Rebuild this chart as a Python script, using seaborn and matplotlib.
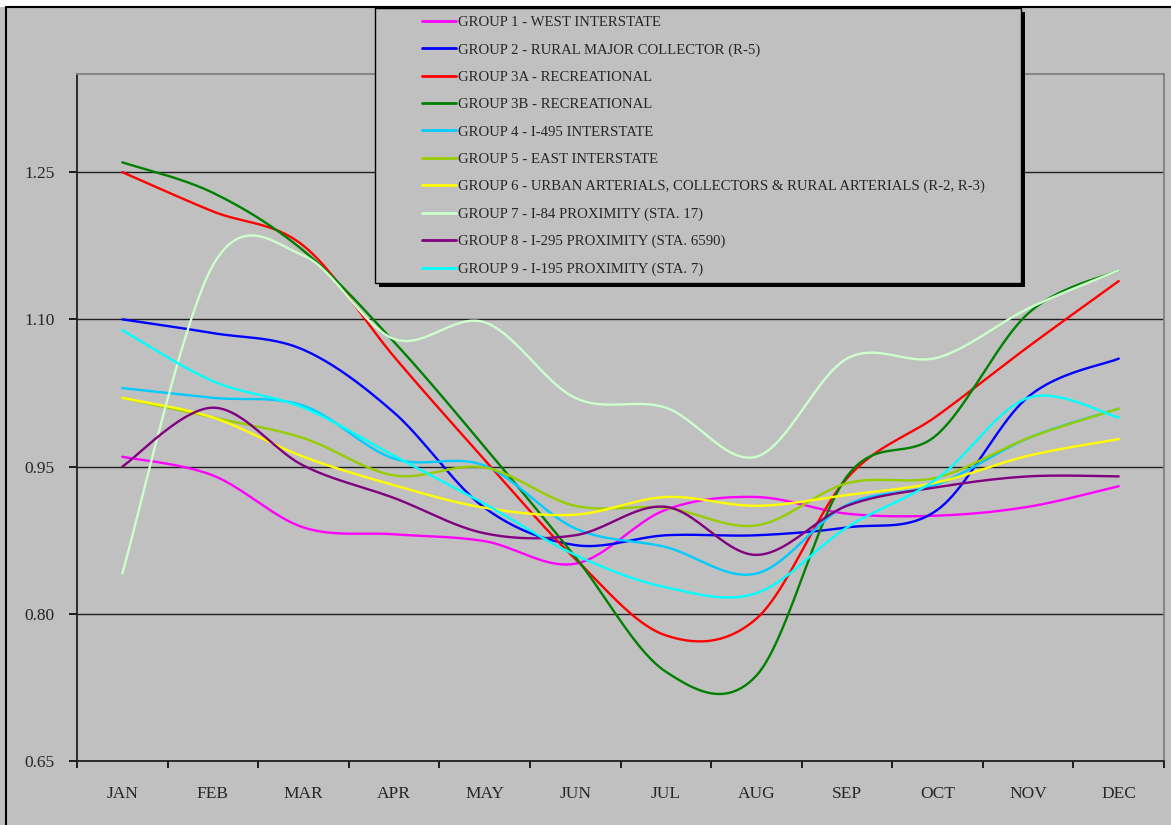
import numpy as np
import pandas as pd
import matplotlib
matplotlib.use("Agg")
import matplotlib.pyplot as plt
import seaborn as sns
from matplotlib.patches import Rectangle
from matplotlib.lines import Line2D

months = ['JAN', 'FEB', 'MAR', 'APR', 'MAY', 'JUN', 'JUL', 'AUG', 'SEP', 'OCT', 'NOV', 'DEC']

group_names = [
    'GROUP 1 - WEST INTERSTATE',
    'GROUP 2 - RURAL MAJOR COLLECTOR (R-5)',
    'GROUP 3A - RECREATIONAL',
    'GROUP 3B - RECREATIONAL',
    'GROUP 4 - I-495 INTERSTATE',
    'GROUP 5 - EAST INTERSTATE',
    'GROUP 6 - URBAN ARTERIALS, COLLECTORS & RURAL ARTERIALS (R-2, R-3)',
    'GROUP 7 - I-84 PROXIMITY (STA. 17)',
    'GROUP 8 - I-295 PROXIMITY (STA. 6590)',
    'GROUP 9 - I-195 PROXIMITY (STA. 7)',
]

group1 = [0.960, 0.941, 0.888, 0.881, 0.874, 0.851, 0.906, 0.919, 0.902, 0.900, 0.909, 0.930]
group2 = [1.100, 1.086, 1.069, 1.005, 0.908, 0.870, 0.880, 0.880, 0.888, 0.906, 1.021, 1.060]
group3a = [1.250, 1.210, 1.175, 1.062, 0.957, 0.856, 0.778, 0.795, 0.938, 1.002, 1.072, 1.139]
group3b = [1.260, 1.229, 1.170, 1.077, 0.970, 0.858, 0.741, 0.737, 0.940, 0.983, 1.106, 1.150]
group4 = [1.030, 1.020, 1.012, 0.958, 0.951, 0.887, 0.868, 0.841, 0.911, 0.932, 0.979, 1.009]
group5 = [1.020, 1.000, 0.979, 0.941, 0.949, 0.910, 0.908, 0.890, 0.933, 0.939, 0.979, 1.009]
group6 = [1.020, 1.000, 0.960, 0.931, 0.908, 0.901, 0.919, 0.910, 0.921, 0.934, 0.961, 0.978]
group7 = [0.841, 1.155, 1.165, 1.080, 1.097, 1.020, 1.010, 0.960, 1.060, 1.061, 1.111, 1.150]
group8 = [0.950, 1.010, 0.951, 0.918, 0.882, 0.880, 0.909, 0.860, 0.910, 0.929, 0.940, 0.940]
group9 = [1.089, 1.037, 1.010, 0.961, 0.912, 0.860, 0.827, 0.821, 0.888, 0.938, 1.020, 1.000]

series = [group1, group2, group3a, group3b, group4, group5, group6, group7, group8, group9]

colors = ['#FF00FF', '#0000FF', '#FF0000', '#008000', '#00CCFF',
          '#99CC00', '#FFFF00', '#CCFFCC', '#800080', '#00FFFF']


def smooth_line(vals, steps=24):
    # excel style smoothed line: bezier through the points
    p = np.array(vals, dtype=float)
    n = len(p)
    xs, ys = [], []
    for i in range(n - 1):
        p0 = p[i - 1] if i > 0 else p[i]
        p3 = p[i + 2] if i + 2 < n else p[i + 1]
        x0 = i - 1 if i > 0 else i
        x3 = i + 2 if i + 2 < n else i + 1
        c1y = p[i] + (p[i + 1] - p0) / 6
        c2y = p[i + 1] - (p3 - p[i]) / 6
        c1x = i + ((i + 1) - x0) / 6
        c2x = (i + 1) - (x3 - i) / 6
        t = np.linspace(0, 1, steps, endpoint=(i == n - 2))
        b0, b1, b2, b3 = (1 - t) ** 3, 3 * (1 - t) ** 2 * t, 3 * (1 - t) * t ** 2, t ** 3
        xs.append(b0 * i + b1 * c1x + b2 * c2x + b3 * (i + 1))
        ys.append(b0 * p[i] + b1 * c1y + b2 * c2y + b3 * p[i + 1])
    return np.concatenate(xs), np.concatenate(ys)


frames = []
for name, vals in zip(group_names, series):
    sx, sy = smooth_line(vals)
    frames.append(pd.DataFrame({'x': sx, 'value': sy, 'group': name}))
df = pd.concat(frames, ignore_index=True)

sns.set_style('white')
plt.rcParams['font.family'] = ['Liberation Serif', 'DejaVu Serif']

gray = '#C0C0C0'
W, H = 1171, 825
fig = plt.figure(figsize=(11.71, 8.25), dpi=100, facecolor=gray)
ax = fig.add_axes([77 / W, 1 - 761 / H, (1164 - 77) / W, (761 - 74) / H])
ax.set_facecolor(gray)

sns.lineplot(data=df, x='x', y='value', hue='group', hue_order=group_names,
             palette=colors, sort=False, estimator=None, units='group',
             linewidth=1.7, ax=ax, legend=False)

ax.set_xlim(-0.5, 11.5)
ax.set_ylim(0.65, 1.35)
ax.set_yticks([0.65, 0.80, 0.95, 1.10, 1.25])
ax.set_yticklabels(['0.65', '0.80', '0.95', '1.10', '1.25'])
ax.set_xticks(range(12))
ax.set_xticklabels(months)
ax.set_xticks(np.arange(-0.5, 12, 1), minor=True)
ax.tick_params(axis='x', which='major', bottom=False, length=0, pad=18, labelsize=12.5)
ax.tick_params(axis='x', which='minor', bottom=True, length=5, width=1.2, direction='out', color='black')
ax.tick_params(axis='y', which='major', left=True, length=6, width=1.2, direction='out', pad=10,
               labelsize=12.5, color='black')
ax.set_xlabel('')
ax.set_ylabel('')
ax.yaxis.grid(True, color='#202020', linewidth=1)
ax.set_axisbelow(True)
for side in ['left', 'bottom']:
    ax.spines[side].set_color('#202020')
    ax.spines[side].set_linewidth(1.3)
for side in ['top', 'right']:
    ax.spines[side].set_color('#808080')
    ax.spines[side].set_linewidth(1.3)

# outer chart border and white strip at the top
fig.patches.append(Rectangle((0, 1 - 7 / H), 1, 7 / H, transform=fig.transFigure,
                             facecolor='white', edgecolor='none', zorder=0))
fig.add_artist(Line2D([6 / W, 6 / W], [0, 1 - 7 / H], color='black', lw=1.5, transform=fig.transFigure))
fig.add_artist(Line2D([6 / W, 1], [1 - 7 / H, 1 - 7 / H], color='black', lw=1.5, transform=fig.transFigure))

# legend box with shadow
lx0, lx1, ly0, ly1 = 375, 1021, 8, 283
fig.patches.append(Rectangle(((lx0 + 4) / W, 1 - (ly1 + 4) / H), (lx1 - lx0) / W, (ly1 - ly0) / H,
                             transform=fig.transFigure, facecolor='black', edgecolor='none', zorder=5))
fig.patches.append(Rectangle((lx0 / W, 1 - ly1 / H), (lx1 - lx0) / W, (ly1 - ly0) / H,
                             transform=fig.transFigure, facecolor=gray, edgecolor='black',
                             linewidth=1, zorder=6))

handles = [Line2D([], [], color=c, lw=2) for c in colors]
leg = fig.legend(handles, group_names, loc='upper left', bbox_to_anchor=(422 / W, 1 - 16 / H),
                 frameon=False, fontsize=10.6, handlelength=2.3, handletextpad=0.15,
                 labelspacing=0.95, borderpad=0, borderaxespad=0)
leg.set_zorder(7)

fig.savefig('out.png', dpi=100, facecolor=gray)
